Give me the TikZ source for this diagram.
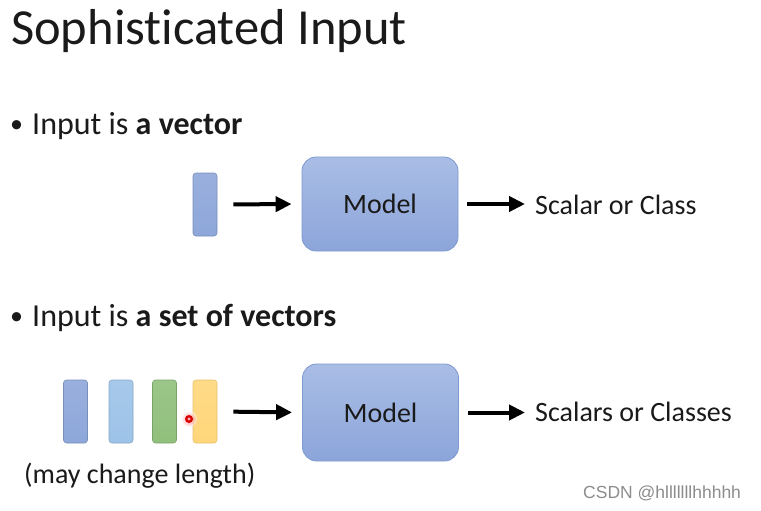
\documentclass[tikz,border=0pt]{standalone}
\usepackage{fontspec}
\setmainfont[Ligatures=NoCommon]{Carlito}
\newfontfamily\wmfont{Liberation Sans}
\usepackage{xcolor}
\usepackage{tikz}
\usetikzlibrary{arrows.meta,positioning}
\definecolor{modeltop}{HTML}{A9BDE5}
\definecolor{modelbot}{HTML}{8CA5DA}
\definecolor{modeledge}{HTML}{7F9AD0}
\definecolor{vecblue}{HTML}{8EA7DA}
\definecolor{veclight}{HTML}{9DC3E8}
\definecolor{vecgreen}{HTML}{90C07C}
\definecolor{vecyellow}{HTML}{FFD67A}
\definecolor{inktext}{HTML}{1A1A1A}

\begin{document}
\begin{tikzpicture}[
    x=1pt, y=-1pt,
    model/.style={rectangle, rounded corners=14pt, draw=modeledge, line width=0.8pt,
        top color=modeltop, bottom color=modelbot, minimum width=156pt,
        font=\fontsize{28}{32}\selectfont, text=inktext},
    vecbox/.style={rectangle, rounded corners=3pt, line width=0.6pt,
        minimum width=24pt, minimum height=63pt, inner sep=0pt},
    label/.style={anchor=base west, inner sep=0pt, text=inktext,
        font=\fontsize{28}{32}\selectfont},
    bulletline/.style={anchor=base west, inner sep=0pt, text=inktext,
        font=\fontsize{32}{36}\selectfont},
    bulletdot/.style={anchor=base west, inner sep=0pt, text=inktext,
        font=\fontsize{26}{30}\selectfont},
    arrow/.style={-{Triangle[length=16pt,width=15pt]}, line width=4pt}
]
    \useasboundingbox (0,0) rectangle (761,511);

    % Title
    \node[anchor=base west, inner sep=0pt, text=inktext,
        font=\fontsize{50.5}{56}\selectfont] (title) at (11,45) {Sophisticated Input};

    % First case
    \node[bulletdot] (dot1) at (10,132) {•};
    \node[bulletline] (case1) at (32,134) {Input is \textbf{a vector}};
    \node[vecbox, draw=vecblue!85!black, top color=vecblue!90!white, bottom color=vecblue] (vec) at (205,204.5) {};
    \node[model, minimum height=94pt] (model1) at (380,204) {Model};
    \node[label] (out1) at (535,214) {Scalar or Class};

    % Second case
    \node[bulletdot] (dot2) at (10,324) {•};
    \node[bulletline] (case2) at (32,326) {Input is \textbf{a set of vectors}};
    \node[vecbox, draw=vecblue!85!black, top color=vecblue!90!white, bottom color=vecblue] (v1) at (75.5,411.5) {};
    \node[vecbox, draw=veclight!85!black, top color=veclight!90!white, bottom color=veclight] (v2) at (121,411.5) {};
    \node[vecbox, draw=vecgreen!85!black, top color=vecgreen!90!white, bottom color=vecgreen] (v3) at (164.5,411.5) {};
    \node[vecbox, draw=vecyellow!90!black, top color=vecyellow!90!white, bottom color=vecyellow] (v4) at (205,411.5) {};
    \node[model, minimum height=97pt] (model2) at (380.5,412.5) {Model};
    \node[label] (out2) at (535,421) {Scalars or Classes};
    \node[label] (note) at (24,483) {(may change length)};

    % Arrows
    \draw[arrow, shorten <=16pt, shorten >=10pt] (vec.east) -- (model1.west);
    \draw[arrow, shorten <=9pt, shorten >=10pt] (model1.east) -- (out1.west |- model1.east);
    \draw[arrow, shorten <=16pt, shorten >=10pt] (v4.east) -- (model2.west);
    \draw[arrow, shorten <=9pt, shorten >=10pt] (model2.east) -- (out2.west |- model2.east);

    % Pointer and watermark
    \shade[inner color=red!70, outer color=white, opacity=0.6] (189,419) circle (8pt);
    \fill[red!85!black] (189,419) circle (4pt);
    \fill[red!30] (189,419) circle (1.6pt);
    \node[anchor=base west, inner sep=0pt, text=black!45,
        font=\wmfont\fontsize{17.5}{20}\selectfont] (mark) at (583,498) {CSDN @hlllllllhhhhh};
\end{tikzpicture}
\end{document}
